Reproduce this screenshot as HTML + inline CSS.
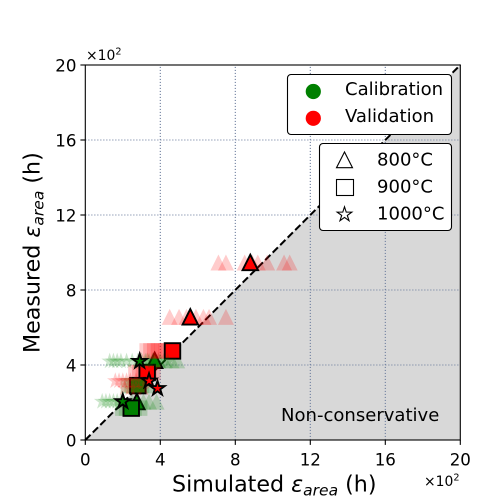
<!DOCTYPE html>
<html>
<head>
<meta charset="utf-8">
<style>
html,body{margin:0;padding:0;background:#fff;width:500px;height:500px;overflow:hidden}
svg{display:block;font-family:"DejaVu Sans","Liberation Sans",sans-serif;fill:#000}
</style>
</head>
<body>
<svg id="chart" width="500" height="500" viewBox="0 0 500 500"></svg>
<script>
const tickValues = [0, 4, 8, 12, 16, 20];
const tickLabels = ['0', '4', '8', '12', '16', '20'];

const triangleSimulated = [8.8, 5.6, 3.7, 2.75];
const triangleMeasured = [9.47, 6.57, 4.25, 2.05];
const triangleGroups = ['val', 'val', 'cal', 'cal'];
const triangleSpread = [
  [7.1, 7.5, 8.5, 8.9, 9.2, 9.7, 10.6, 10.9],
  [4.5, 5.0, 5.4, 5.9, 6.3, 6.6, 7.5],
  [3.0, 3.3, 3.6, 3.9, 4.2, 4.6, 4.9],
  [2.5, 2.8, 3.1, 3.4, 3.8]
];

const squareSimulated = [4.65, 3.3, 2.8, 2.45];
const squareMeasured = [4.75, 3.6, 2.9, 1.7];
const squareGroups = ['val', 'val', 'cal', 'cal'];
const squareSpread = [
  [3.3, 3.5, 3.7, 3.9, 4.1, 4.3],
  [2.7, 2.9, 3.1, 3.4, 3.6],
  [2.3, 2.5, 2.7, 3.0, 3.2],
  [2.0, 2.2, 2.6, 2.9]
];

const starSimulated = [2.9, 3.4, 3.85, 2.0];
const starMeasured = [4.2, 3.15, 2.75, 2.05];
const starGroups = ['cal', 'val', 'val', 'cal'];
const starSpread = [
  [1.3, 1.5, 1.7, 1.9, 2.2, 2.5, 2.8, 3.2, 3.4, 3.6, 4.0, 4.4],
  [1.6, 1.8, 2.0, 2.2, 2.4, 2.7, 3.0],
  [2.1, 2.4, 2.7, 3.1],
  [0.9, 1.1, 1.3, 1.5, 1.7, 1.9]
];

const NS = 'http://www.w3.org/2000/svg';
const svg = document.getElementById('chart');
const X0 = 85.3, Y0 = 440, PLOT = 375, MAX = 20;
const COLORS = { cal: '#008000', val: '#ff0000' };
const xScale = v => X0 + v / MAX * PLOT;
const yScale = v => Y0 - v / MAX * PLOT;

function make(tag, attrs, parent) {
  const el = document.createElementNS(NS, tag);
  for (const k in attrs) el.setAttribute(k, attrs[k]);
  (parent || svg).appendChild(el);
  return el;
}
function trianglePoints(cx, cy, s) {
  return cx + ',' + (cy - s / 2) + ' ' + (cx - s / 2) + ',' + (cy + s / 2) + ' ' + (cx + s / 2) + ',' + (cy + s / 2);
}
function starPoints(cx, cy, r) {
  const pts = [];
  for (let i = 0; i < 10; i++) {
    const rad = i % 2 ? r * 0.381966 : r;
    const a = -Math.PI / 2 + i * Math.PI / 5;
    pts.push((cx + rad * Math.cos(a)).toFixed(2) + ',' + (cy + rad * Math.sin(a)).toFixed(2));
  }
  return pts.join(' ');
}
function drawMarker(shape, cx, cy, s, style) {
  if (shape === 'triangle') return make('polygon', Object.assign({ points: trianglePoints(cx, cy, s) }, style));
  if (shape === 'square') return make('rect', Object.assign({ x: cx - s / 2, y: cy - s / 2, width: s, height: s }, style));
  return make('polygon', Object.assign({ points: starPoints(cx, cy, s * 0.56) }, style));
}

/* background */
const shade = make('polygon', { points: xScale(0) + ',' + yScale(0) + ' ' + xScale(MAX) + ',' + yScale(MAX) + ' ' + xScale(MAX) + ',' + yScale(0), fill: '#d8d8d8' });



/* grid */
tickValues.forEach(v => {
  if (v === 0 || v === MAX) return;
  const gx = make('line', { x1: xScale(v), x2: xScale(v), y1: Y0, y2: Y0 - PLOT, stroke: '#6f7f9f', 'stroke-width': 1.1, 'stroke-dasharray': '1.1 1.9' });
  
  
  const gy = make('line', { x1: X0, x2: X0 + PLOT, y1: yScale(v), y2: yScale(v), stroke: '#6f7f9f', 'stroke-width': 1.1, 'stroke-dasharray': '1.1 1.9' });
  
  
});

/* diagonal */
const diag = make('line', { x1: xScale(0), y1: yScale(0), x2: xScale(MAX), y2: yScale(MAX), stroke: '#000', 'stroke-width': 2, 'stroke-dasharray': '7.4 3.2' });



/* points, layered by temperature series: faded spread, then the mean markers */
function drawFaded(shape, spread, measured, groups, size) {
  spread.forEach((xs, i) => {
    xs.forEach(x => {
      const m = drawMarker(shape, xScale(x), yScale(measured[i]), size, { fill: COLORS[groups[i]], 'fill-opacity': 0.2 });
      
      
    });
  });
}
function drawMain(shape, xs, ys, groups, size) {
  xs.forEach((x, i) => {
    const m = drawMarker(shape, xScale(x), yScale(ys[i]), size, { fill: COLORS[groups[i]], stroke: '#000', 'stroke-width': 1.9, 'stroke-linejoin': 'miter' });
    
    
  });
}
drawFaded('triangle', triangleSpread, triangleMeasured, triangleGroups, 16);
drawMain('triangle', triangleSimulated, triangleMeasured, triangleGroups, 15.5);
drawFaded('square', squareSpread, squareMeasured, squareGroups, 15.5);
drawMain('square', squareSimulated, squareMeasured, squareGroups, 15.5);
drawFaded('star', starSpread, starMeasured, starGroups, 15.5);
drawMain('star', starSimulated, starMeasured, starGroups, 13.5);

/* spines */
const frame = make('rect', { x: X0, y: Y0 - PLOT, width: PLOT, height: PLOT, fill: 'none', stroke: '#000', 'stroke-width': 1.1 });



/* ticks */
tickValues.forEach((v, i) => {
  const tx = make('line', { x1: xScale(v), x2: xScale(v), y1: Y0, y2: Y0 + 4.9, stroke: '#000', 'stroke-width': 1.1 });
  
  
  const ty = make('line', { x1: X0 - 4.9, x2: X0, y1: yScale(v), y2: yScale(v), stroke: '#000', 'stroke-width': 1.1 });
  
  
  const lx = make('text', { x: xScale(v), y: 465.5, 'text-anchor': 'middle', 'font-size': 16.67 });
  lx.textContent = tickLabels[i];
  
  
  const ly = make('text', { x: 76.5, y: yScale(v) + 6.5, 'text-anchor': 'end', 'font-size': 16.67 });
  ly.textContent = tickLabels[i];
  
  
});

svg.insertAdjacentHTML('beforeend', `
<g>
  <text x="172" y="491.5" font-size="22.2" xml:space="preserve">Simulated <tspan font-style="italic">ε</tspan><tspan font-style="italic" font-size="15.5" dy="4">area</tspan><tspan dy="-4"> (h)</tspan></text>
</g>
<g>
  <text transform="translate(39.5,353) rotate(-90)" x="0" y="0" font-size="22.2" xml:space="preserve">Measured <tspan font-style="italic">ε</tspan><tspan font-style="italic" font-size="15.5" dy="4">area</tspan><tspan dy="-4"> (h)</tspan></text>
</g>
<text x="424" y="486" font-size="13.9">×10<tspan font-size="9.7" dy="-5.5">2</tspan></text>
<text x="86" y="60" font-size="13.9">×10<tspan font-size="9.7" dy="-5.5">2</tspan></text>
<text x="281" y="421" font-size="18.05">Non-conservative</text>

<g>
  <rect x="287.5" y="74.5" width="164" height="60" rx="3.5" fill="#fff" stroke="#000" stroke-width="1.1"/>
  <circle cx="313.3" cy="91.5" r="7.6" fill="#008000"/>
  <text x="345" y="95" font-size="18.05">Calibration</text>
  <circle cx="313.3" cy="118.3" r="7.6" fill="#ff0000"/>
  <text x="345" y="122" font-size="18.05">Validation</text>
</g>
<g>
  <rect x="319.5" y="143.5" width="132" height="87" rx="3.5" fill="#fff" stroke="#000" stroke-width="1.1"/>
  <polygon points="344.5,152 336.5,167.7 352.5,167.7" fill="#fff" stroke="#000" stroke-width="1.1"/>
  <text x="377" y="165.5" font-size="18.05">800°C</text>
  <rect x="336.5" y="179.5" width="17" height="16" fill="#fff" stroke="#000" stroke-width="1.1"/>
  <text x="377" y="192.5" font-size="18.05">900°C</text>
  <polygon points="${starPoints(344.5, 214.5, 7.7)}" fill="#fff" stroke="#000" stroke-width="1.1"/>
  <text x="377" y="219.5" font-size="18.05">1000°C</text>
</g>`);
</script>
</body>
</html>
